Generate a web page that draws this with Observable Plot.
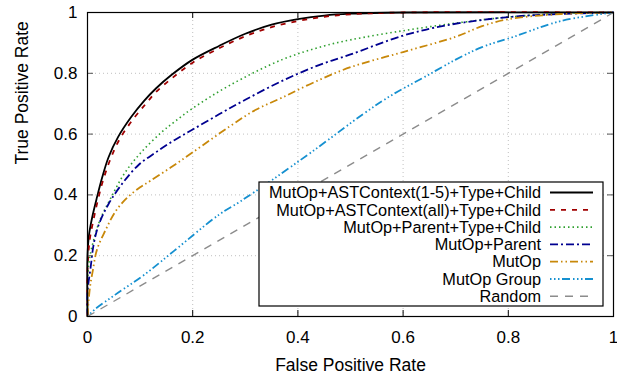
<!DOCTYPE html>
<html>
<head>
<meta charset="utf-8">
<script src="https://cdn.jsdelivr.net/npm/d3@7"></script>
<script src="https://cdn.jsdelivr.net/npm/@observablehq/plot@0.6"></script>
<style>
  html, body { margin: 0; padding: 0; background: #fff; }
  #chart { width: 617px; height: 377px; }
</style>
</head>
<body>
<div id="chart"></div>
<script>
// ---- Data ----
const seriesNames = [
  "MutOp+ASTContext(1-5)+Type+Child",
  "MutOp+ASTContext(all)+Type+Child",
  "MutOp+Parent+Type+Child",
  "MutOp+Parent",
  "MutOp",
  "MutOp Group",
  "Random"
];

const fprAst15 = [0, 0, 0.003, 0.009, 0.018, 0.028, 0.04, 0.058, 0.083, 0.108, 0.13, 0.16, 0.2, 0.25, 0.3, 0.35, 0.4, 0.45, 0.5, 0.6, 1];
const tprAst15 = [0, 0.2, 0.27, 0.327, 0.392, 0.458, 0.524, 0.59, 0.656, 0.71, 0.75, 0.795, 0.845, 0.89, 0.93, 0.96, 0.978, 0.99, 0.996, 1, 1];

const fprAstAll = [0, 0, 0.004, 0.011, 0.02, 0.03, 0.043, 0.06, 0.085, 0.11, 0.13, 0.16, 0.2, 0.25, 0.3, 0.35, 0.4, 0.45, 0.5, 0.6, 1];
const tprAstAll = [0, 0.15, 0.25, 0.315, 0.385, 0.45, 0.515, 0.58, 0.645, 0.698, 0.738, 0.783, 0.835, 0.882, 0.922, 0.952, 0.972, 0.986, 0.994, 1, 1];

const fprParentTypeChild = [0, 0, 0.003, 0.013, 0.026, 0.045, 0.07, 0.102, 0.14, 0.165, 0.2, 0.27, 0.37, 0.45, 0.5, 0.6, 0.7, 0.8, 0.9, 1];
const tprParentTypeChild = [0, 0.1, 0.18, 0.26, 0.327, 0.392, 0.47, 0.54, 0.605, 0.64, 0.685, 0.76, 0.845, 0.89, 0.91, 0.94, 0.965, 0.985, 0.997, 1];

const fprParent = [0, 0, 0.006, 0.012, 0.021, 0.04, 0.066, 0.098, 0.13, 0.165, 0.2, 0.25, 0.3, 0.37, 0.44, 0.5, 0.6, 0.68, 0.8, 0.9, 1];
const tprParent = [0, 0.08, 0.162, 0.24, 0.3, 0.37, 0.437, 0.5, 0.54, 0.58, 0.615, 0.665, 0.713, 0.775, 0.827, 0.862, 0.924, 0.957, 0.985, 0.995, 1];

const fprMutOp = [0, 0.002, 0.005, 0.01, 0.018, 0.034, 0.053, 0.075, 0.1, 0.12, 0.158, 0.2, 0.27, 0.32, 0.37, 0.43, 0.5, 0.6, 0.7, 0.75, 0.8, 0.9, 1];
const tprMutOp = [0, 0.05, 0.1, 0.15, 0.22, 0.283, 0.345, 0.39, 0.425, 0.447, 0.49, 0.54, 0.625, 0.68, 0.72, 0.77, 0.82, 0.87, 0.92, 0.955, 0.978, 0.995, 1];

const fprGroup = [0, 0.015, 0.053, 0.11, 0.164, 0.25, 0.29, 0.35, 0.43, 0.525, 0.58, 0.64, 0.7, 0.75, 0.81, 0.9, 1];
const tprGroup = [0, 0.025, 0.072, 0.14, 0.215, 0.335, 0.378, 0.448, 0.546, 0.667, 0.73, 0.787, 0.845, 0.886, 0.92, 0.972, 1];

const fprRandom = [0, 1];
const tprRandom = [0, 1];

const xTicks = [0, 0.2, 0.4, 0.6, 0.8, 1];
const yTicks = [0, 0.2, 0.4, 0.6, 0.8, 1];
const xTitle = "False Positive Rate";
const yTitle = "True Positive Rate";

// ---- Styles ----
const styles = [
  {stroke: "#000000", width: 1.8, dash: null},
  {stroke: "#a00000", width: 1.8, dash: "5,6"},
  {stroke: "#2fa02f", width: 1.6, dash: "1.5,3"},
  {stroke: "#000090", width: 1.8, dash: "8,3,2,3"},
  {stroke: "#c8880a", width: 1.8, dash: "8,3,1.5,3,1.5,3"},
  {stroke: "#1590d0", width: 1.8, dash: "1.5,2.5,1.5,2.5,1.5,2.5,8,3"},
  {stroke: "#8c8c8c", width: 1.4, dash: "8,7"}
];

const xs = [fprAst15, fprAstAll, fprParentTypeChild, fprParent, fprMutOp, fprGroup, fprRandom];
const ys = [tprAst15, tprAstAll, tprParentTypeChild, tprParent, tprMutOp, tprGroup, tprRandom];
const seriesData = xs.map((xa, i) => xa.map((x, j) => ({x, y: ys[i][j], s: seriesNames[i]})));

const W = 617, H = 377;
const mL = 87, mR = 4, mT = 12, mB = 61;
const innerW = W - mL - mR, innerH = H - mT - mB;
const tickLen = 6;
const font = "'Liberation Sans', Arial, Helvetica, sans-serif";

const lineMarks = seriesData.map((d, i) => Plot.line(d, {
  x: "x", y: "y",
  curve: "catmull-rom",
  stroke: styles[i].stroke,
  strokeWidth: styles[i].width,
  strokeDasharray: styles[i].dash,
  strokeLinecap: "butt",
  strokeLinejoin: "round"
}));

const chart = Plot.plot({
  width: W, height: H,
  marginLeft: mL, marginRight: mR, marginTop: mT, marginBottom: mB,
  style: {fontFamily: font, fontSize: "17px", background: "#fff", color: "#000"},
  x: {domain: [0, 1]},
  y: {domain: [0, 1]},
  marks: [
    Plot.gridX(xTicks, {stroke: "#b0b0b0", strokeOpacity: 0.8, strokeDasharray: "1,3"}),
    Plot.gridY(yTicks, {stroke: "#b0b0b0", strokeOpacity: 0.8, strokeDasharray: "1,3"}),
    ...lineMarks,
    Plot.tickX(xTicks, {x: d => d, insetTop: innerH - tickLen, stroke: "#000"}),
    Plot.tickX(xTicks, {x: d => d, insetBottom: innerH - tickLen, stroke: "#000"}),
    Plot.tickY(yTicks, {y: d => d, insetRight: innerW - tickLen, stroke: "#555"}),
    Plot.tickY(yTicks, {y: d => d, insetLeft: innerW - tickLen, stroke: "#555"}),
    Plot.axisX(xTicks, {tickSize: 0, tickPadding: 14, tickFormat: d => String(d), label: null, fontSize: 17}),
    Plot.axisY(yTicks, {tickSize: 0, tickPadding: 10, tickFormat: d => String(d), label: null, fontSize: 17}),
    Plot.text([xTitle], {frameAnchor: "bottom", dy: 54, fontSize: 17.5, fill: "#000"}),
    Plot.text([yTitle], {frameAnchor: "left", dx: -65, rotate: -90, fontSize: 17.5, fill: "#000"}),
    Plot.frame({stroke: "#000", strokeWidth: 1.2})
  ]
});

// ---- Legend (inside plot, bottom right) ----
const svg = d3.select(chart);
const lg = svg.append("g").attr("font-family", font).attr("font-size", 16.3);
const boxX = 259, boxY = 182, boxW = 344, boxH = 124;
lg.append("rect").attr("x", boxX).attr("y", boxY).attr("width", boxW).attr("height", boxH)
  .attr("fill", "#fff").attr("stroke", "#000").attr("stroke-width", 1.2);
const rowY0 = 192.5, rowStep = 17.3;
seriesNames.forEach((name, i) => {
  const yy = rowY0 + i * rowStep;
  lg.append("text").attr("x", 541).attr("y", yy).attr("dy", "0.35em")
    .attr("text-anchor", "end").attr("fill", "#000").text(name);
  lg.append("line").attr("x1", 550).attr("x2", 593).attr("y1", yy).attr("y2", yy)
    .attr("stroke", styles[i].stroke).attr("stroke-width", styles[i].width)
    .attr("stroke-dasharray", styles[i].dash);
});

document.getElementById("chart").appendChild(chart);
</script>
</body>
</html>
